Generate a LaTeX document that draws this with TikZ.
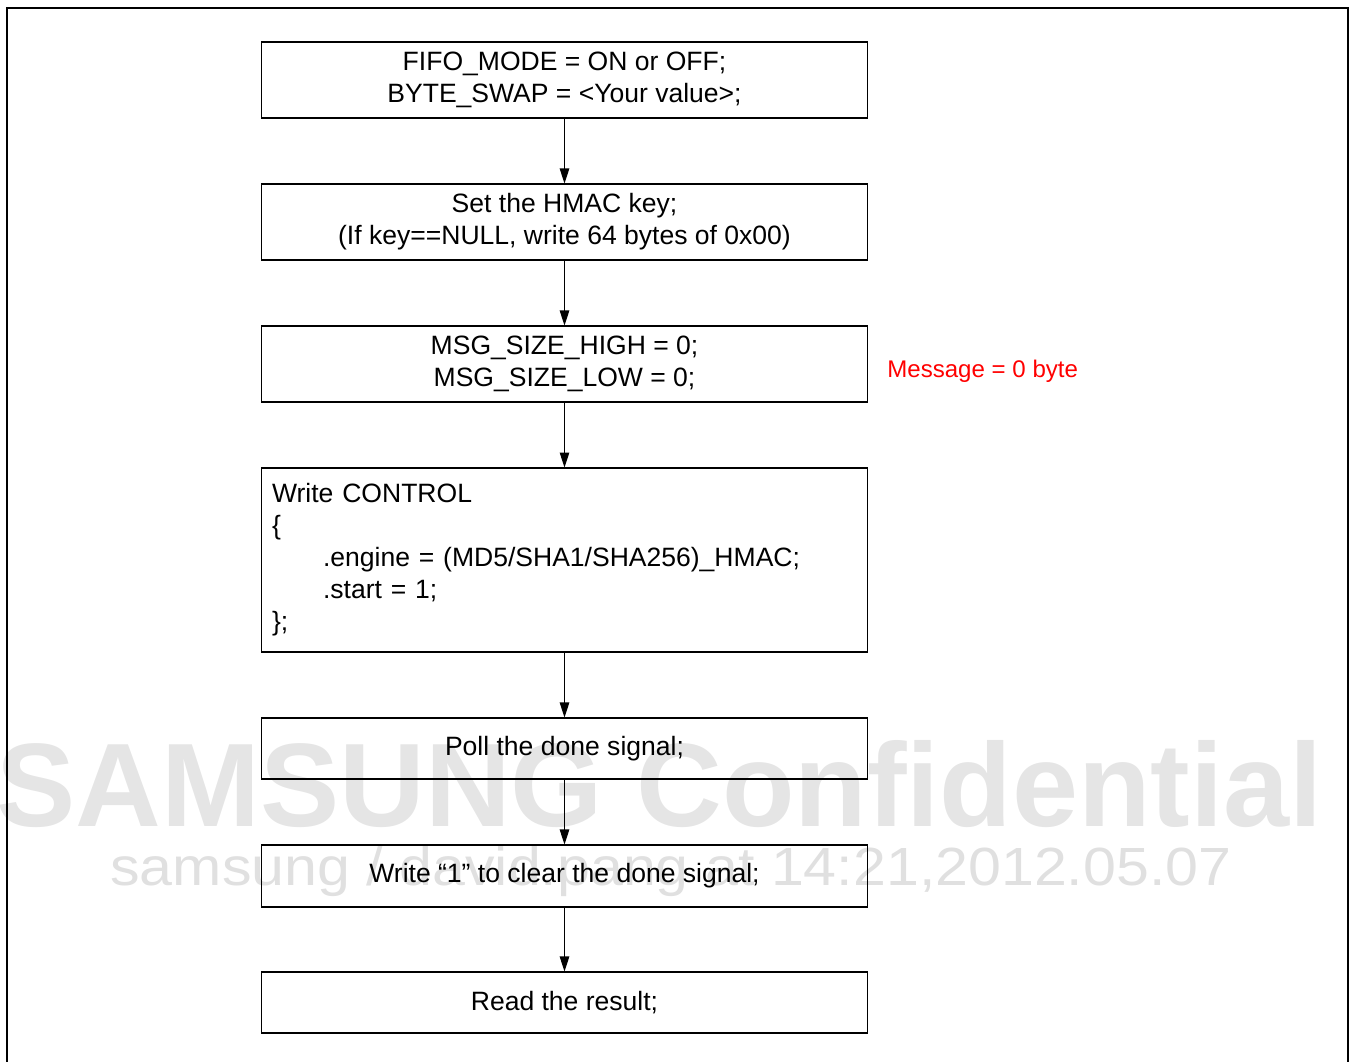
\documentclass[tikz,border=0pt]{standalone}
\usepackage{fontspec}
\setmainfont{Liberation Sans}
\usetikzlibrary{positioning,arrows.meta}

\tikzset{
  stepbox/.style={draw, line width=0.6pt, minimum width=12.14cm, minimum height=1.52cm,
    inner sep=0pt, align=center, font=\fontsize{15.1}{18.2}\selectfont},
  flow/.style={-{Triangle[length=0.3cm,width=0.19cm]}, line width=0.6pt},
  wmark/.style={text=black!10, anchor=base west, inner sep=0pt},
}

\begin{document}
\begin{tikzpicture}[x=0.02cm, y=-0.02cm]
    \useasboundingbox (0,0) rectangle (1353,1062);

    % Watermark (behind)
    \node [wmark, font=\bfseries\fontsize{67.6}{67.6}\selectfont] (confid) at (-4, 826) {SAMSUNG Confidential};
    \node [wmark, text=black!12, font=\fontsize{30.6}{30.6}\selectfont] (stamp) at (110, 885)
        {\scalebox{1.1}[1]{samsung / david.pang at 14:21,2012.05.07}};

    % Outer frame
    \draw [line width=1.3pt] (7, 1062) -- (7, 8) -- (1348, 8) -- (1348, 1062);

    % Steps
    \node [stepbox] (fifo) at (564.5, 80) {FIFO\_MODE = ON or OFF;\\BYTE\_SWAP = <Your value>;};
    \node [stepbox] (key) at (564.5, 222) {Set the HMAC key;\\(If key==NULL, write 64 bytes of 0x00)};
    \node [stepbox] (size) at (564.5, 364) {MSG\_SIZE\_HIGH = 0;\\MSG\_SIZE\_LOW = 0;};
    \node [stepbox, minimum height=3.68cm, text width=11.7cm, align=left, inner xsep=0.22cm] (ctrl) at (564.5, 560) {
        Write CONTROL\\
        \{\\
        \hspace*{1.02cm}.engine = (MD5/SHA1/SHA256)\_HMAC;\\
        \hspace*{1.02cm}.start = 1;\\
        \};};
    \node [stepbox, minimum height=1.22cm] (poll) at (564.5, 748.5) {Poll the done signal;};
    \node [stepbox, minimum height=1.24cm] (clear) at (564.5, 876) {Write “1” to clear the done signal;};
    \node [stepbox, minimum height=1.22cm] (result) at (564.5, 1002.5) {Read the result;};

    % Side note
    \node [anchor=base west, inner sep=0pt, text=red, font=\fontsize{13.7}{16}\selectfont] (msg) at (887, 377) {Message = 0 byte};

    % Arrows
    \draw [flow] (fifo) -- (key);
    \draw [flow] (key) -- (size);
    \draw [flow] (size) -- (ctrl);
    \draw [flow] (ctrl) -- (poll);
    \draw [flow] (poll) -- (clear);
    \draw [flow] (clear) -- (result);
\end{tikzpicture}
\end{document}
